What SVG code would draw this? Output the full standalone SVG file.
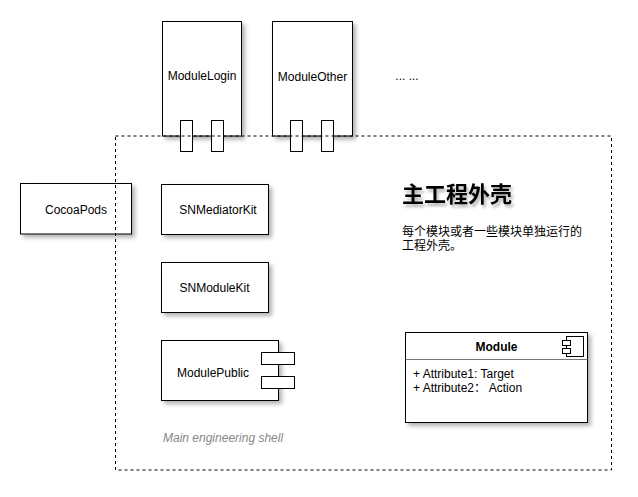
<svg xmlns="http://www.w3.org/2000/svg" width="638" height="497" viewBox="0 0 638 497">
<defs>
<filter id="sh" x="-20%" y="-20%" width="140%" height="140%">
<feDropShadow dx="3" dy="3" stdDeviation="2" flood-color="#000" flood-opacity="0.3"/>
</filter>
<filter id="tsh" x="-10%" y="-30%" width="120%" height="160%">
<feDropShadow dx="2" dy="3" stdDeviation="1.5" flood-color="#000" flood-opacity="0.3"/>
</filter>
</defs>
<style>
.box{fill:#fff;stroke:#000;stroke-width:1}
.port{fill:#fff;stroke:#000;stroke-width:1}
.lbl{font-family:"Liberation Sans",Arial,sans-serif;font-size:12px;fill:#000;text-anchor:middle}
.cjk{font-family:"Liberation Sans","Noto Sans CJK SC",sans-serif;fill:#000}
.shell{fill:none;stroke:#000;stroke-width:1;stroke-dasharray:3,3}
</style>
<rect width="638" height="497" fill="#fff"/>
<g id="ModuleLogin">
<rect class="box" x="162.5" y="21.5" width="79" height="114.5" filter="url(#sh)"/>
<text class="lbl" x="202" y="80">ModuleLogin</text>
<rect class="port" x="180.5" y="120.5" width="12" height="31"/>
<rect class="port" x="211.5" y="120.5" width="12" height="31"/>
</g>
<g id="ModuleOther">
<rect class="box" x="272.5" y="21.5" width="80" height="114.5" filter="url(#sh)"/>
<text class="lbl" x="312.5" y="81">ModuleOther</text>
<rect class="port" x="290.5" y="120.5" width="12" height="31"/>
<rect class="port" x="321.5" y="120.5" width="12" height="31"/>
</g>
<g id="more">
<text class="lbl" x="407" y="80">... ...</text>
</g>
<g id="CocoaPods">
<rect class="box" x="20.5" y="183.5" width="111" height="50.5" filter="url(#sh)"/>
<text class="lbl" x="76" y="214">CocoaPods</text>
</g>
<g id="SNMediatorKit">
<rect class="box" x="161.5" y="184.5" width="107" height="50" filter="url(#sh)"/>
<text class="lbl" x="218" y="214">SNMediatorKit</text>
</g>
<g id="SNModuleKit">
<rect class="box" x="161.5" y="262.5" width="107" height="50" filter="url(#sh)"/>
<text class="lbl" x="214.5" y="292">SNModuleKit</text>
</g>
<g id="ModulePublic">
<rect class="box" x="161.5" y="340.5" width="117" height="60" filter="url(#sh)"/>
<text class="lbl" x="213" y="377">ModulePublic</text>
<rect class="port" x="261.5" y="352.5" width="33" height="12"/>
<rect class="port" x="261.5" y="376.5" width="33" height="12"/>
</g>
<g id="Module">
<rect class="box" x="405.5" y="332.5" width="182" height="90" filter="url(#sh)"/>
<line x1="405.5" y1="359.5" x2="587.5" y2="359.5" stroke="#777" stroke-width="1"/>
<text class="lbl" x="496.5" y="351" font-weight="bold">Module</text>
<rect class="port" x="566.5" y="336.5" width="17" height="20"/>
<rect class="port" x="562.5" y="340.5" width="8" height="5"/>
<rect class="port" x="562.5" y="348.5" width="8" height="5"/>
<text class="cjk" x="413" y="378" font-size="12">+ Attribute1: Target</text>
<text class="cjk" x="413" y="392" font-size="12">+ Attribute2： Action</text>
</g>
<g id="shell">
<rect class="shell" x="115.5" y="136" width="496" height="334"/>
<text x="163" y="442" font-family="'Liberation Sans',Arial,sans-serif" font-size="12" font-style="italic" fill="#888">Main engineering shell</text>
<text class="cjk" x="402" y="202" font-size="22" font-weight="bold" filter="url(#tsh)">主工程外壳</text>
<text class="cjk" x="402" y="236" font-size="12">每个模块或者一些模块单独运行的</text>
<text class="cjk" x="402" y="250" font-size="12">工程外壳。</text>
</g>
<g id="connectors"></g>
</svg>
